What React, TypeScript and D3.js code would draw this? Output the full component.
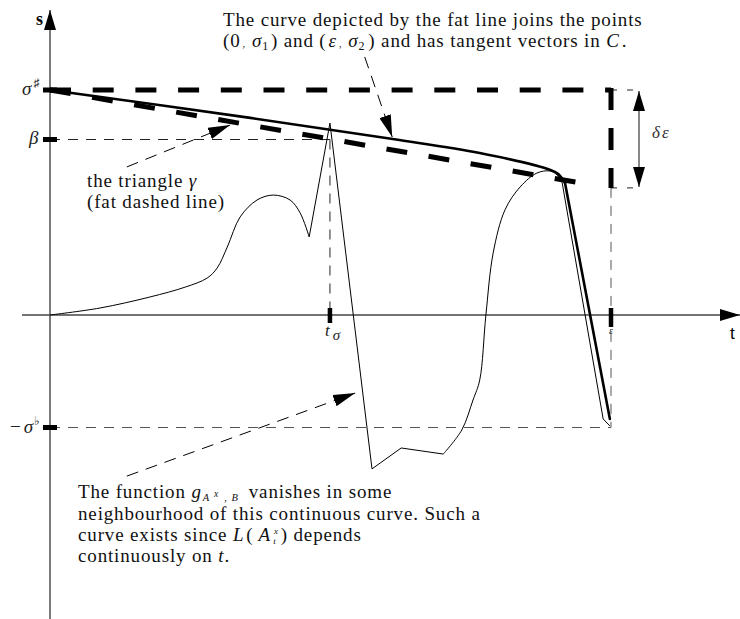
import React from 'react';
import * as d3 from 'd3';

// levels on the s axis (sigma sharp = 1)
const sSharp = 1;
const sBeta = 0.78;
const sFlat = -0.5;
const sDeltaLow = 0.565;
// points on the t axis (epsilon = 1)
const tSigma = 0.499;
const tEps = 1;

// fat line: the curve from (0, sigma1) to (eps, sigma2)
const fatSmooth: [number, number][] = [
  [0, 1], [0.357, 0.876], [0.611, 0.782], [0.766, 0.72], [0.893, 0.644],
  [0.906, 0.627], [0.918, 0.587],
];
const fatTail: [number, number][] = [[0.918, 0.587], [0.998, -0.462]];

// fat dashed line: the triangle gamma
const triangle: [number, number][] = [[0, 1], [0.957, 0.582]];

// thin curve (the continuous curve)
const thinA: [number, number][] = [
  [0, 0], [0.089, 0.031], [0.178, 0.08], [0.241, 0.124], [0.28, 0.164],
  [0.298, 0.209], [0.316, 0.302], [0.339, 0.436], [0.369, 0.511], [0.398, 0.533],
  [0.428, 0.511], [0.446, 0.453], [0.462, 0.347],
];
const thinB: [number, number][] = [
  [0.462, 0.347], [0.499, 0.853], [0.574, -0.684], [0.626, -0.591], [0.701, -0.618],
];
const thinC: [number, number][] = [
  [0.701, -0.618], [0.734, -0.511], [0.754, -0.378], [0.766, -0.289], [0.777, 0],
  [0.79, 0.276], [0.811, 0.467], [0.838, 0.569], [0.868, 0.631], [0.891, 0.64],
  [0.904, 0.622], [0.913, 0.587],
];
const thinD: [number, number][] = [[0.913, 0.587], [0.986, -0.462], [0.998, -0.493]];

// annotation pointers [from, to]
const pointers: [number, number][][] = [
  [[0.561, 1.147], [0.61, 0.791]],
  [[0.137, 0.658], [0.321, 0.844]],
  [[0.137, -0.716], [0.544, -0.347]],
];

const W = 740;
const H = 619;
const serif = '"Liberation Serif", "Times New Roman", serif';

export default function App() {
  const x = d3.scaleLinear().domain([0, 1]).range([50, 611]);
  const y = d3.scaleLinear().domain([0, 1]).range([315, 90]);

  const smooth = d3.line<[number, number]>()
    .x(d => x(d[0])).y(d => y(d[1]))
    .curve(d3.curveCatmullRom.alpha(0.5));
  const straight = d3.line<[number, number]>()
    .x(d => x(d[0])).y(d => y(d[1]));

  const thinDash = '10 8';
  const fatDash = '21 21.7';
  const x0 = x(0), y0 = y(0);

  return (
    <svg width={W} height={H} style={{ position: 'absolute', left: 0, top: 0, background: '#fff' }}
      fontFamily={serif}>
      <defs>
        <marker id="head" markerUnits="userSpaceOnUse" markerWidth="22" markerHeight="12"
          refX="22" refY="6" orient="auto">
          <path d="M0,0 L22,6 L0,12 Z" fill="#000" />
        </marker>
        <marker id="axhead" markerUnits="userSpaceOnUse" markerWidth="20" markerHeight="12"
          refX="20" refY="6" orient="auto">
          <path d="M0,0 L20,6 L0,12 Z" fill="#000" />
        </marker>
        <marker id="dhead" markerUnits="userSpaceOnUse" markerWidth="20" markerHeight="12"
          refX="20" refY="6" orient="auto-start-reverse">
          <path d="M0,0 L20,6 L0,12 Z" fill="#000" />
        </marker>
      </defs>

      {/* axes */}
      <line x1={x0} y1={H} x2={x0} y2={10} stroke="#444" strokeWidth={1.4} markerEnd="url(#axhead)" />
      <line x1={22} y1={y0} x2={740} y2={y0} stroke="#444" strokeWidth={1.4} markerEnd="url(#axhead)" />
      <text x={36} y={25} fontSize={18} fontWeight="bold">s</text>
      <text x={730} y={339} fontSize={17} fontFamily='"Liberation Sans", sans-serif'>t</text>

      {/* thin dashed guides */}
      <g stroke="#222" strokeWidth={1} fill="none" strokeDasharray={thinDash}>
        <line x1={x0} y1={y(sBeta)} x2={x(tSigma)} y2={y(sBeta)} />
        <line x1={x(tSigma)} y1={y(sBeta)} x2={x(tSigma)} y2={y0} />
        <line x1={x0} y1={y(sFlat)} x2={x(tEps)} y2={y(sFlat)} stroke="#555" />
        <line x1={x(tEps)} y1={y(sDeltaLow)} x2={x(tEps)} y2={y(sFlat)} stroke="#555" />
        <line x1={x(tEps)} y1={y(sSharp)} x2={x(tEps) + 28} y2={y(sSharp)} strokeDasharray="6 10" />
        <line x1={x(tEps)} y1={y(sDeltaLow)} x2={x(tEps) + 28} y2={y(sDeltaLow)} strokeDasharray="6 10" />
      </g>

      {/* fat dashed: sigma sharp level and the drop at eps */}
      <g stroke="#000" strokeWidth={5} fill="none" strokeDasharray={fatDash}>
        <line x1={x0} y1={y(sSharp)} x2={x(tEps)} y2={y(sSharp)} />
        <line x1={x(tEps)} y1={y(sSharp) - 2} x2={x(tEps)} y2={y(sDeltaLow)} strokeDasharray="22 18" />
        <path d={straight(triangle) ?? ''} />
      </g>

      {/* ticks */}
      <g stroke="#000" strokeWidth={5}>
        <line x1={43} y1={y(sSharp)} x2={57} y2={y(sSharp)} />
        <line x1={43} y1={y(sBeta)} x2={57} y2={y(sBeta)} />
        <line x1={43} y1={y(sFlat)} x2={57} y2={y(sFlat)} />
        <line x1={x(tSigma)} y1={y0 - 7} x2={x(tSigma)} y2={y0 + 8} strokeWidth={4.5} />
        <line x1={x(tEps)} y1={y0 - 7} x2={x(tEps)} y2={y0 + 12} strokeWidth={4.5} />
      </g>

      {/* thin curve */}
      <g stroke="#000" strokeWidth={1} fill="none" strokeLinejoin="miter">
        <path d={smooth(thinA) ?? ''} />
        <path d={straight(thinB) ?? ''} />
        <path d={smooth(thinC) ?? ''} />
        <path d={straight(thinD) ?? ''} />
      </g>

      {/* fat curve */}
      <g stroke="#000" strokeWidth={2.6} fill="none" strokeLinecap="round">
        <path d={smooth(fatSmooth) ?? ''} />
        <path d={straight(fatTail) ?? ''} />
      </g>

      {/* delta eps arrow */}
      <line x1={x(tEps) + 28} y1={y(sSharp) + 1} x2={x(tEps) + 28} y2={y(sDeltaLow) - 1}
        stroke="#555" strokeWidth={1.4} markerStart="url(#dhead)" markerEnd="url(#dhead)" />
      <text x={652} y={138} fontSize={17} fontStyle="italic" fill="#333">δ<tspan dx={2}>ε</tspan></text>

      {/* pointers */}
      <g stroke="#000" strokeWidth={1} strokeDasharray="12 8" fill="none">
        {pointers.map((p, i) => (
          <line key={i} x1={x(p[0][0])} y1={y(p[0][1])} x2={x(p[1][0])} y2={y(p[1][1])}
            markerEnd="url(#head)" />
        ))}
      </g>

      {/* axis labels */}
      <text x={22} y={95} fontSize={19} fontStyle="italic" fill="#222">σ<tspan dx={2} dy={-8} fontSize={12} fontStyle="normal">♯</tspan></text>
      <text x={29} y={144} fontSize={19} fontStyle="italic" fill="#222">β</text>
      <text x={10} y={433} fontSize={19} fill="#222">−<tspan dx={3} fontStyle="italic">σ</tspan><tspan dx={1} dy={-8} fontSize={12}>♭</tspan></text>
      <text x={325} y={336} fontSize={17} fontStyle="italic" fill="#222">t<tspan dx={3} dy={4} fontSize={15}>σ</tspan></text>
      <text x={x(tEps)} y={334} fontSize={10} fontStyle="italic" textAnchor="middle" fill="#222">ε</text>

      {/* annotations */}
      <g fontSize={19} fill="#111" letterSpacing={0.85}>
        <text x={223} y={26}>The curve depicted by the fat line joins the points</text>
        <text x={223} y={47}>(0<tspan fontSize={10} dx={2}>,</tspan><tspan fontStyle="italic" dx={6}>σ</tspan><tspan fontSize={12} dy={3}>1</tspan><tspan dx={2} dy={-3}>) and (</tspan><tspan fontStyle="italic" dx={2}>ε</tspan><tspan fontSize={10} dx={2}>,</tspan><tspan fontStyle="italic" dx={6}>σ</tspan><tspan fontSize={12} dy={3}>2</tspan><tspan dx={3} dy={-3}>) and has tangent vectors in </tspan><tspan fontStyle="italic">C</tspan><tspan dx={2}>.</tspan></text>

        <text x={87} y={187}>the triangle <tspan fontStyle="italic">γ</tspan></text>
        <text x={87} y={208}>(fat dashed line)</text>

        <text x={78} y={498}>The function <tspan fontStyle="italic">g</tspan><tspan fontStyle="italic" fontSize={10.5} dx={1} dy={2.5}>A</tspan><tspan fontStyle="italic" fontSize={9.5} dx={4} dy={-4}>x</tspan><tspan fontSize={10} dx={5} dy={4}>,</tspan><tspan fontStyle="italic" fontSize={10.5} dx={4}>B</tspan><tspan dx={10} dy={-2.5}>vanishes in some</tspan></text>
        <text x={78} y={520}>neighbourhood of this continuous curve. Such a</text>
        <text x={78} y={541}>curve exists since <tspan fontStyle="italic">L</tspan><tspan dx={2}>(</tspan><tspan fontStyle="italic" dx={5}>A</tspan><tspan fontStyle="italic" fontSize={9} dx={3} dy={-7}>x</tspan><tspan fontStyle="italic" fontSize={9} dx={-5.5} dy={10}>t</tspan><tspan dx={4} dy={-3}>) depends</tspan></text>
        <text x={78} y={562}>continuously on <tspan fontStyle="italic">t</tspan>.</text>
      </g>
    </svg>
  );
}
